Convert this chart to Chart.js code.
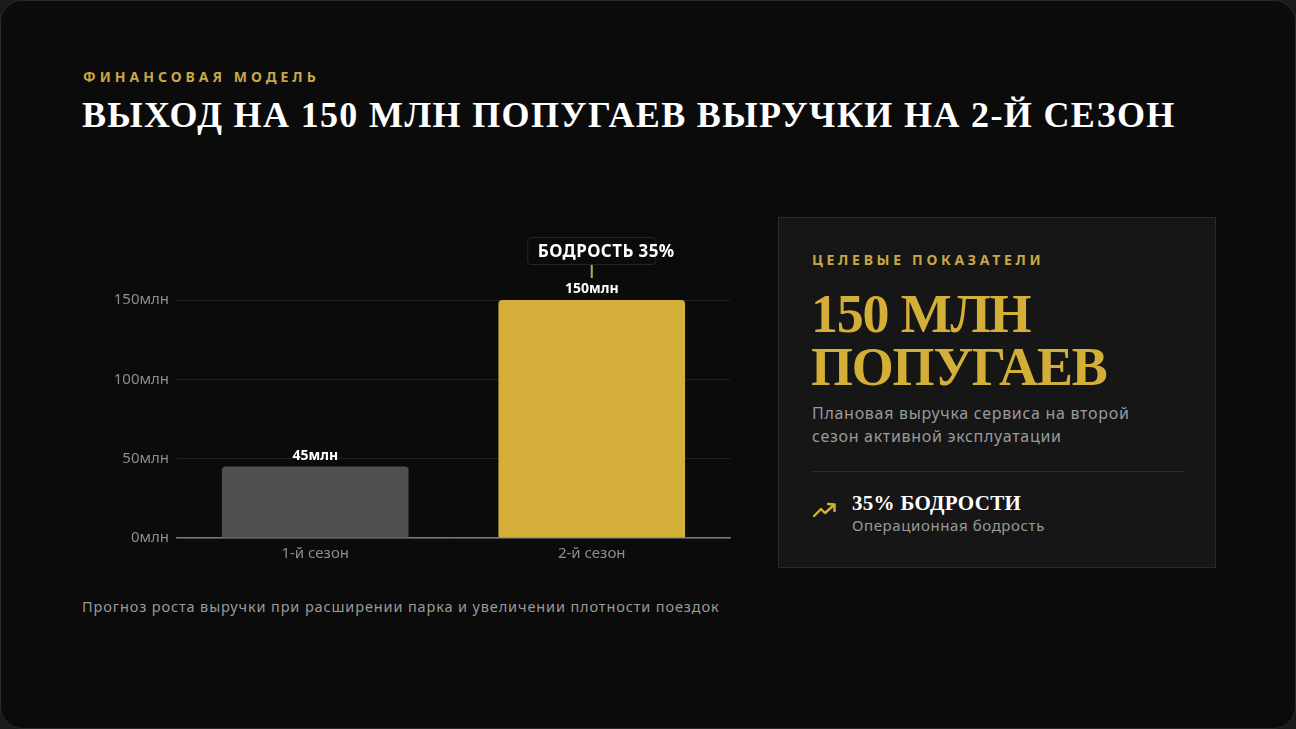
<!DOCTYPE html>
<html><head><meta charset="utf-8">
<script src="https://cdn.jsdelivr.net/npm/chart.js@4"></script>
<style>
html,body{margin:0;padding:0;background:#1a1a1a;width:1296px;height:729px;overflow:hidden}
#frame{position:absolute;left:0;top:0;width:1294px;height:727px;border:1px solid #2a2a2a;border-radius:22px;background:#0b0b0b;overflow:hidden}
.t{position:absolute;white-space:nowrap;margin:0}
#kicker{left:82px;top:66px;font:700 14px "Noto Sans",sans-serif;letter-spacing:4px;color:#c9a646}
#title{left:81px;top:93px;font:700 36px "Liberation Serif",serif;letter-spacing:1.35px;color:#fff}
#chartBox{position:absolute;left:80px;top:220px;width:660px;height:351px}
#caption{left:81px;top:595px;font:400 14.5px "Noto Sans",sans-serif;letter-spacing:0.87px;color:#9a9a9a}
#panel{position:absolute;left:777px;top:216px;width:436px;height:349px;background:#161616;border:1px solid #2a2a2a}
#pk{left:33px;top:32px;font:700 14px "Noto Sans",sans-serif;letter-spacing:3.7px;color:#c9a646}
#big{left:32px;top:70px;font:700 54px/53px "Liberation Serif",serif;color:#d4af37;letter-spacing:-1.2px}
#desc{left:33px;top:184px;font:400 16px/23px "Noto Sans",sans-serif;letter-spacing:0.7px;color:#9a9a9a}
#div{position:absolute;left:33px;top:253px;width:372px;height:1px;background:#2c2c2c}
#icon{position:absolute;left:34px;top:284px}
#stat{left:73px;top:273px;font:700 21px "Liberation Serif",serif;color:#fff;letter-spacing:0.3px}
#statSub{left:73px;top:297px;font:400 15px "Noto Sans",sans-serif;letter-spacing:0.6px;color:#9a9a9a}
</style></head>
<body>
<div id="frame">
  <p class="t" id="kicker">ФИНАНСОВАЯ МОДЕЛЬ</p>
  <p class="t" id="title">ВЫХОД НА 150 МЛН ПОПУГАЕВ ВЫРУЧКИ НА 2-Й СЕЗОН</p>
  <div id="chartBox"><canvas id="c"></canvas></div>
  <p class="t" id="caption">Прогноз роста выручки при расширении парка и увеличении плотности поездок</p>
  <div id="panel">
    <p class="t" id="pk">ЦЕЛЕВЫЕ ПОКАЗАТЕЛИ</p>
    <p class="t" id="big">150 МЛН<br>ПОПУГАЕВ</p>
    <p class="t" id="desc">Плановая выручка сервиса на второй<br>сезон активной эксплуатации</p>
    <div id="div"></div>
    <svg id="icon" width="24" height="16" viewBox="0 0 24 16"><polyline points="1,14 8,7 12,11 21,3" fill="none" stroke="#d4af37" stroke-width="2.4" stroke-linecap="round" stroke-linejoin="round"/><polyline points="15,2 21.5,2.5 21.5,9" fill="none" stroke="#d4af37" stroke-width="2.4" stroke-linecap="round" stroke-linejoin="round"/></svg>
    <p class="t" id="stat">35% БОДРОСТИ</p>
    <p class="t" id="statSub">Операционная бодрость</p>
  </div>
</div>
<script>
const categories = ["1-й сезон", "2-й сезон"];
const revenue = [45, 150];
const barColors = ["#4f4f4f", "#d4b03a"];
const annotations = ["", "БОДРОСТЬ 35%"];
const yTicks = [0, 50, 100, 150];
const unit = "млн";

const labelsPlugin = {
  id: "valueLabels",
  afterDatasetsDraw(chart) {
    const ctx = chart.ctx;
    const meta = chart.getDatasetMeta(0);
    meta.data.forEach((bar, i) => {
      ctx.save();
      ctx.font = '700 14px "Noto Sans", sans-serif';
      ctx.fillStyle = "#ffffff";
      ctx.textAlign = "center";
      ctx.textBaseline = "middle";
      ctx.fillText(revenue[i] + unit, bar.x, bar.y - 11);
      const ann = annotations[i];
      if (ann) {
        ctx.strokeStyle = "#c9a646";
        ctx.lineWidth = 2;
        ctx.beginPath();
        ctx.moveTo(bar.x, bar.y - 22);
        ctx.lineTo(bar.x, bar.y - 35);
        ctx.stroke();
        const bw = 128, bh = 27;
        const bx = bar.x - bw / 2, by = bar.y - 35 - bh - 0.5;
        ctx.fillStyle = "#0b0b0b";
        ctx.strokeStyle = "#262626";
        ctx.lineWidth = 1;
        ctx.beginPath();
        ctx.roundRect(bx, by, bw, bh, 3);
        ctx.fill();
        ctx.stroke();
        ctx.font = '700 17px "Noto Sans", sans-serif';
        ctx.letterSpacing = "0.4px";
        ctx.textAlign = "left";
        ctx.fillStyle = "#ffffff";
        ctx.fillText(ann, bx + 10, by + bh / 2 + 1);
      }
      ctx.restore();
    });
  }
};

new Chart(document.getElementById("c"), {
  type: "bar",
  data: {
    labels: categories,
    datasets: [{
      data: revenue,
      backgroundColor: barColors,
      borderRadius: {topLeft: 4, topRight: 4, bottomLeft: 0, bottomRight: 0},
      borderSkipped: "bottom",
      barPercentage: 0.9,
      categoryPercentage: 0.75
    }]
  },
  options: {
    responsive: true,
    maintainAspectRatio: false,
    animation: false,
    layout: {padding: {top: 79, right: 11, left: 0, bottom: 0}},
    plugins: {legend: {display: false}, tooltip: {enabled: false}},
    scales: {
      x: {
        afterFit(scale) { scale.height = 34; },
        grid: {display: false, drawTicks: false},
        border: {display: true, color: "#777777", width: 1.5},
        ticks: {color: "#8c8c8c", font: {family: "Noto Sans", size: 15}, padding: 7}
      },
      y: {
        min: 0, max: 150,
        afterBuildTicks(scale) { scale.ticks = yTicks.map(v => ({value: v})); },
        afterFit(scale) { scale.width = 96; },
        grid: {color: "#222222", lineWidth: 1, drawTicks: false},
        border: {display: false},
        ticks: {color: "#8c8c8c", font: {family: "Noto Sans", size: 15}, padding: 8,
          callback: v => v + unit}
      }
    }
  },
  plugins: [labelsPlugin]
});
</script>
</body></html>
